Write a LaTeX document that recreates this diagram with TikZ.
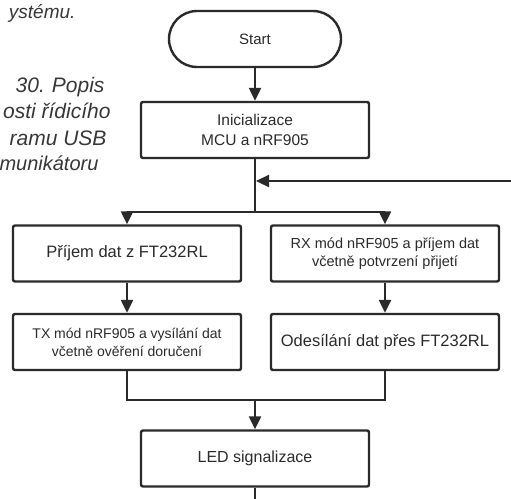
\documentclass[tikz,border=0pt]{standalone}
\usepackage{fontspec}
\setmainfont{Liberation Sans}
\definecolor{inkgray}{RGB}{42,42,42}
\definecolor{capgray}{RGB}{55,55,55}
\usetikzlibrary{arrows.meta,positioning}

\begin{document}
\begin{tikzpicture}[x=1pt, y=-1pt,
    proc/.style={draw=inkgray, line width=2.4pt, rounded corners=2pt,
                 minimum width=228pt, minimum height=56pt, align=center,
                 text=inkgray, inner sep=2pt},
    term/.style={draw=inkgray, line width=2.4pt, rounded corners=28pt,
                 minimum width=172pt, minimum height=56pt, text=inkgray},
    flow/.style={draw=inkgray, line width=2.3pt, -{Triangle[length=13pt,width=12pt]}},
    wire/.style={draw=inkgray, line width=2.3pt},
    captxt/.style={anchor=base east, text=capgray, font=\fontsize{21}{25}\selectfont\itshape}]
    \useasboundingbox (0,0) rectangle (511,498);
    \clip (0,0) rectangle (511,498);

    % caption fragments on the left
    \node[captxt, font=\fontsize{19}{23}\selectfont\itshape] (cap0) at (79,18) {ystému.};
    \node[captxt] (cap1) at (108,92) {30.\hspace{7pt}Popis};
    \node[captxt] (cap2) at (114,118) {osti řídicího};
    \node[captxt] (cap3) at (110,145) {ramu USB};
    \node[captxt, font=\fontsize{20}{24}\selectfont\itshape] (cap4) at (102,170) {munikátoru};

    % flowchart
    \node[term, font=\fontsize{15}{18}\selectfont] (start) at (255,39) {Start};
    \node[proc, font=\fontsize{15.5}{20}\selectfont] (init) at (255,130) {Inicializace\\MCU a nRF905};
    \node[proc, font=\fontsize{16.5}{20}\selectfont] (prijem) at (127,253.5) {Příjem dat z FT232RL};
    \node[proc, font=\fontsize{14.5}{18}\selectfont] (rxmod) at (385,253.5) {RX mód nRF905 a příjem dat\\včetně potvrzení přijetí};
    \node[proc, font=\fontsize{14}{18}\selectfont] (txmod) at (127,342) {TX mód nRF905 a vysílání dat\\včetně ověření doručení};
    \node[proc, font=\fontsize{16.5}{20}\selectfont] (odesil) at (385,342) {Odesílání dat přes FT232RL};
    \node[proc, font=\fontsize{16}{20}\selectfont] (led) at (255,458.5) {LED signalizace};

    \coordinate (back) at (256,181);
    \coordinate (split) at (255,212);
    \coordinate (merge) at (255,400);
    \coordinate (loop) at (540,181);

    \draw[flow] (start) -- (init);
    \draw[wire] (init) -- (split);
    \draw[flow] (split) -| (prijem);
    \draw[flow] (split) -| (rxmod);
    \draw[flow] (prijem) -- (txmod);
    \draw[flow] (rxmod) -- (odesil);
    \draw[wire] (txmod) |- (merge) -| (odesil);
    \draw[flow] (merge) -- (led);
    \draw[flow] (led.south) -- ++(0,30) -| (loop) -- (back);
\end{tikzpicture}
\end{document}
